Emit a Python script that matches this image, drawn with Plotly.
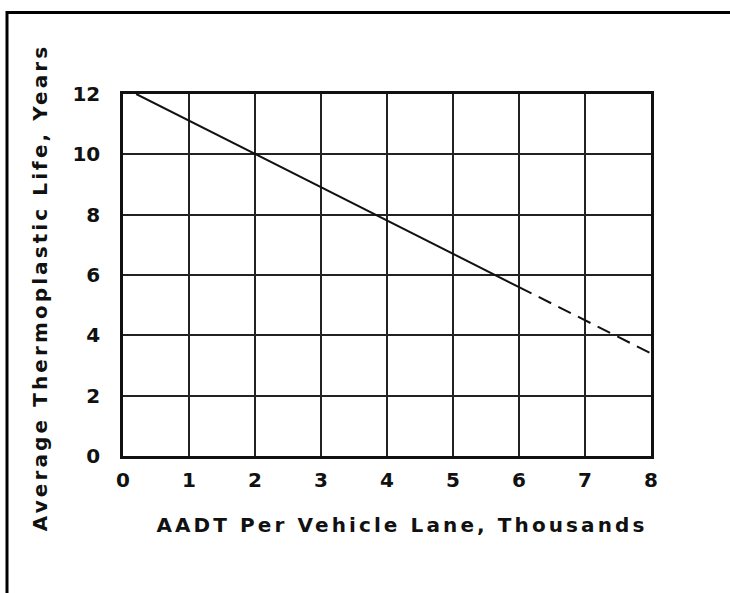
import plotly.graph_objects as go

# Data
x_solid = [0.2, 6.0]
y_solid = [12.0, 5.6]
x_dashed = [6.0, 8.0]
y_dashed = [5.6, 3.4]
x_ticks = [0, 1, 2, 3, 4, 5, 6, 7, 8]
y_ticks = [0, 2, 4, 6, 8, 10, 12]
x_title = "AADT Per Vehicle Lane, Thousands"
y_title = "Average Thermoplastic Life, Years"

W, H = 730, 593
L, R, T, B = 123, 79, 94, 137
pw, ph = W - L - R, H - T - B

def px_x(p):
    return (p - L) / pw

def px_y(p):
    return (H - B - p) / ph

FONT = "DejaVu Sans"
INK = "#111111"

fig = go.Figure()
fig.add_trace(go.Scatter(x=x_solid, y=y_solid, mode="lines",
                         line=dict(color=INK, width=2), showlegend=False, hoverinfo="skip"))
fig.add_trace(go.Scatter(x=x_dashed, y=y_dashed, mode="lines",
                         line=dict(color=INK, width=2, dash="14px,8px"), showlegend=False, hoverinfo="skip"))

axis_common = dict(showgrid=True, gridcolor="#222222", gridwidth=2, showline=True, linecolor=INK,
                   linewidth=2.5, mirror=True, zeroline=False, ticks="",
                   tickfont=dict(family=FONT, size=20, color=INK, weight="bold"))

fig.update_xaxes(range=[0, 8], tickvals=x_ticks, ticktext=[str(v) for v in x_ticks],
                 ticklabelstandoff=4, **axis_common)
fig.update_yaxes(range=[0, 12], tickvals=y_ticks, ticktext=[str(v) for v in y_ticks],
                 ticklabelstandoff=16, **axis_common)

fig.add_annotation(text=x_title, xref="paper", yref="paper", x=px_x(402), y=px_y(525),
                   showarrow=False, xanchor="center", yanchor="middle",
                   font=dict(family=FONT, size=20, color=INK, weight="bold"))
fig.add_annotation(text=y_title, xref="paper", yref="paper", x=px_x(40), y=px_y(288),
                   showarrow=False, xanchor="center", yanchor="middle", textangle=-90,
                   font=dict(family=FONT, size=20, color=INK, weight="bold"))

# outer frame (top and left edges)
fig.add_shape(type="path", xref="paper", yref="paper",
              path=f"M {px_x(760)},{px_y(12.5)} L {px_x(7)},{px_y(12.5)} L {px_x(7)},{px_y(620)}",
              line=dict(color="black", width=3))

fig.update_layout(width=W, height=H, margin=dict(l=L, r=R, t=T, b=B),
                  paper_bgcolor="white", plot_bgcolor="white")

post = ("document.body.style.margin='0';"
        "document.querySelectorAll('.annotation-text').forEach(function(e){"
        "e.style.letterSpacing='3.1px';});")
fig.write_html("out.html", post_script=post, config={"displayModeBar": False})
